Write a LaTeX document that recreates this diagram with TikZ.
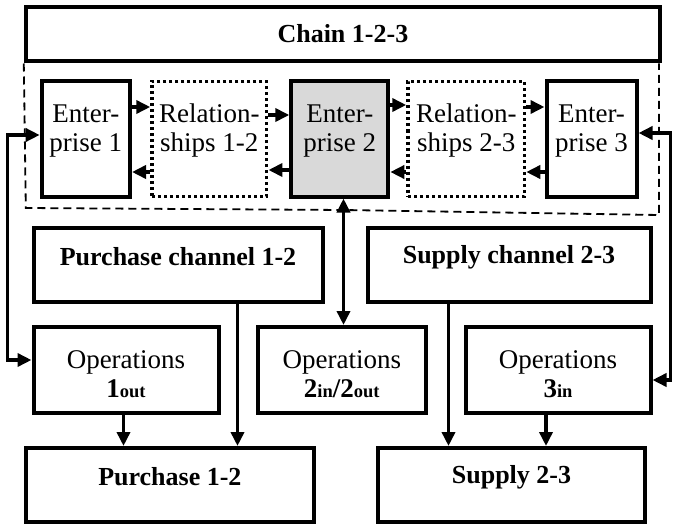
\documentclass[tikz,border=0pt]{standalone}
\usepackage{fontspec}
\setmainfont{Liberation Serif}
\usetikzlibrary{arrows.meta}
\begin{document}
\begin{tikzpicture}[x=1pt,y=-1pt,
  box/.style={draw, line width=4pt, inner sep=0pt},
  relbox/.style={draw, line width=3.5pt, dash pattern=on 3pt off 3pt, inner sep=0pt},
  lbl/.style={font=\fontsize{27}{29}\selectfont, align=center, inner sep=0pt},
  blbl/.style={font=\fontsize{26}{29}\selectfont\bfseries, align=center, inner sep=0pt},
  tip/.tip={Triangle[length=14pt,width=13pt]},
  link/.style={line width=3.5pt, -tip},
  dlink/.style={line width=3.5pt, tip-tip},
  region/.style={line width=1.8pt, dash pattern=on 8pt off 5pt}]
\useasboundingbox (0,0) rectangle (674,524);

% top frame
\node[box, minimum width=634.2pt, minimum height=54pt] (chain) at (342.9,34.5) {};
\node[blbl] (chaint) at (342.9,34) {Chain 1-2-3};

% enterprises and relationships
\node[box, minimum width=88.3pt, minimum height=115pt] (e1) at (85.85,139) {};
\node[relbox, minimum width=114.7pt, minimum height=115pt] (r12) at (209.35,139) {};
\node[box, fill={rgb,255:red,217;green,217;blue,217}, minimum width=97pt, minimum height=115pt] (e2) at (339.8,139) {};
\node[relbox, minimum width=116.5pt, minimum height=115pt] (r23) at (466.25,139) {};
\node[box, minimum width=90pt, minimum height=115pt] (e3) at (591.5,139) {};

\node[lbl] (e1t) at (85.85,131) {Enter-\\prise 1};
\node[lbl] (r12t) at (209.35,131) {Relation-\\ships 1-2};
\node[lbl] (e2t) at (339.8,131) {Enter-\\prise 2};
\node[lbl] (r23t) at (466.25,131) {Relation-\\ships 2-3};
\node[lbl] (e3t) at (591.5,131) {Enter-\\prise 3};

% dashed region around the chain members
\coordinate (dl) at (25.8,208);
\coordinate (dm) at (344,210);
\coordinate (dr) at (659,215);
\draw[region] (chain.south west) -- (dl) -- (dm) -- (dr) -- (dr |- chain.south);

% channels
\node[box, minimum width=289pt, minimum height=74pt] (pc) at (178,265) {};
\node[box, minimum width=283pt, minimum height=74pt] (sc) at (509,265) {};
\node[blbl] (pct) at (178,257) {Purchase channel 1-2};
\node[blbl] (sct) at (509,257) {Supply channel 2-3};

% operations
\node[box, minimum width=185pt, minimum height=86pt] (ops1) at (126,370) {};
\node[box, minimum width=167.6pt, minimum height=86pt] (ops2) at (341.8,370) {};
\node[box, minimum width=185pt, minimum height=86pt] (ops3) at (558,370) {};
\node[lbl] (ops1t) at (126,374) {Operations\\{\bfseries 1{\fontsize{18.5}{20}\selectfont out}}};
\node[lbl] (ops2t) at (341.8,374) {Operations\\{\bfseries 2{\fontsize{18.5}{20}\selectfont in}/2{\fontsize{18.5}{20}\selectfont out}}};
\node[lbl] (ops3t) at (558,374) {Operations\\{\bfseries 3{\fontsize{18.5}{20}\selectfont in}}};

% results
\node[box, minimum width=288.2pt, minimum height=74pt] (pur) at (169.9,485) {};
\node[box, minimum width=267pt, minimum height=74pt] (sup) at (511.5,485) {};
\node[blbl] (purt) at (169.9,477) {Purchase 1-2};
\node[blbl] (supt) at (511.5,477) {Supply 2-3};

% flows between enterprises and relationships
\draw[link] ([yshift=32pt]e1.east) -- ([yshift=32pt]r12.west);
\draw[link] ([yshift=-33pt]r12.west) -- ([yshift=-33pt]e1.east);
\draw[link] ([yshift=24pt]r12.east) -- ([yshift=24pt]e2.west);
\draw[link] ([yshift=-31pt]e2.west) -- ([yshift=-31pt]r12.east);
\draw[link] ([yshift=34pt]e2.east) -- ([yshift=34pt]r23.west);
\draw[link] ([yshift=-33pt]r23.west) -- ([yshift=-33pt]e2.east);
\draw[link] ([yshift=32pt]r23.east) -- ([yshift=32pt]e3.west);
\draw[link] ([yshift=-33pt]e3.west) -- ([yshift=-33pt]r23.east);

% side loops to operations
\coordinate (lx) at (7.5,0);
\coordinate (a1) at ([yshift=4pt]e1.west);
\coordinate (a2) at ([yshift=10pt]ops1.west);
\draw[dlink] (a1) -- (a1 -| lx) -- (a2 -| lx) -- (a2);

\coordinate (rx) at (670.5,0);
\coordinate (b1) at ([yshift=6pt]e3.east);
\coordinate (b2) at ([yshift=-10pt]ops3.east);
\draw[dlink] (b1) -- (b1 -| rx) -- (b2 -| rx) -- (b2);

% enterprise 2 to its operations
\coordinate (vx) at (343.5,0);
\draw[dlink] (e2.south -| vx) -- (ops2.north -| vx);

% channels and operations into results
\coordinate (px) at (237.5,0);
\coordinate (ox1) at (123.5,0);
\coordinate (sx) at (448.5,0);
\coordinate (ox3) at (546,0);
\draw[link] (pc.south -| px) -- (pur.north -| px);
\draw[link] (ops1.south -| ox1) -- (pur.north -| ox1);
\draw[link] (sc.south -| sx) -- (sup.north -| sx);
\draw[link] (ops3.south -| ox3) -- (sup.north -| ox3);
\end{tikzpicture}
\end{document}
